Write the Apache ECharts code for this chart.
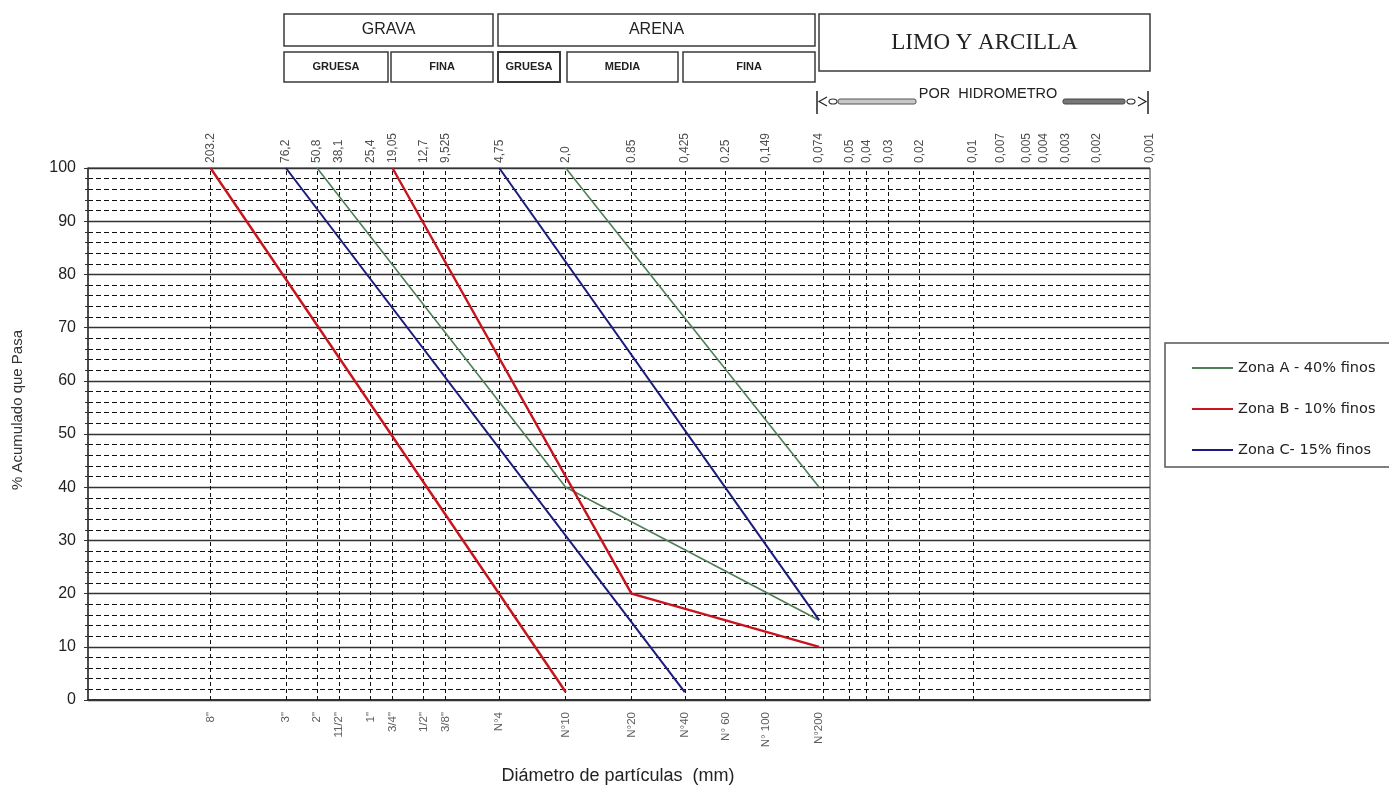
<!DOCTYPE html>
<html>
<head>
<meta charset="utf-8">
<script src="https://cdn.jsdelivr.net/npm/echarts@6/dist/echarts.min.js"></script>
<style>
html,body{margin:0;padding:0;background:#fff;}
#main{width:1389px;height:785px;}
</style>
</head>
<body>
<div id="main"></div>
<script>
// ---- data ----
const sizesMm = [203.2, 76.2, 50.8, 38.1, 25.4, 19.05, 12.7, 9.525, 4.75, 2.0, 0.85, 0.425, 0.25, 0.149, 0.074, 0.05, 0.04, 0.03, 0.02, 0.01, 0.007, 0.005, 0.004, 0.003, 0.002, 0.001];
const sizeLabels = ['203.2','76,2','50,8','38,1','25,4','19,05','12,7','9,525','4,75','2,0','0.85','0,425','0.25','0,149','0,074','0,05','0,04','0,03','0,02','0,01','0,007','0,005','0,004','0,003','0,002','0,001'];
const sieveLabels = ['8"','3"','2"','11/2"','1"','3/4"','1/2"','3/8"','N°4','N°10','N°20','N°40','N° 60','N° 100','N°200'];
const yTicks = [0, 10, 20, 30, 40, 50, 60, 70, 80, 90, 100];

const seriesNames = ['Zona A - 40% finos', 'Zona B - 10% finos', 'Zona C- 15% finos'];
const zonaAUpper = [[2.0, 100], [0.074, 40]];
const zonaALower = [[50.8, 100], [2.0, 40], [0.074, 15]];
const zonaBUpper = [[19.05, 100], [0.85, 20], [0.074, 10]];
const zonaBLower = [[203.2, 100], [2.0, 1.5]];
const zonaCUpper = [[4.75, 100], [0.074, 15]];
const zonaCLower = [[76.2, 100], [0.425, 1.5]];

// ---- chart ----
const colors = {A: '#4f7f58', B: '#c8141e', C: '#1b1b7c'};
const font = 'Liberation Sans, Arial, sans-serif';

function zoneSeries(name, data, color, width) {
  return {
    name: name, type: 'line', data: data, color: color,
    showSymbol: false, symbol: 'none', silent: true, z: 5,
    lineStyle: {color: color, width: width}
  };
}

const chart = echarts.init(document.getElementById('main'), null, {renderer: 'canvas'});

function box(x, y, w, h, text, fontSize, fontWeight, family, lw) {
  return [
    {type: 'rect', shape: {x: x, y: y, width: w, height: h}, style: {fill: '#fff', stroke: '#3a3a3a', lineWidth: lw || 1.5}, z: 10},
    {type: 'text', x: x + w / 2, y: y + h / 2, z: 11,
      style: {text: text, fill: '#222', font: (fontWeight || 'normal') + ' ' + fontSize + 'px ' + (family || font), align: 'center', verticalAlign: 'middle'}}
  ];
}

const graphics = [].concat(
  box(284, 14, 209, 32, 'GRAVA', 16),
  box(498, 14, 317, 32, 'ARENA', 16),
  box(284, 52, 104, 30, 'GRUESA', 11, 'bold'),
  box(391, 52, 102, 30, 'FINA', 11, 'bold'),
  box(498, 52, 62, 30, 'GRUESA', 11, 'bold', null, 2),
  box(567, 52, 111, 30, 'MEDIA', 11, 'bold'),
  box(683, 52, 132, 30, 'FINA', 11, 'bold'),
  box(819, 14, 331, 57, 'LIMO Y ARCILLA', 23, 'normal', 'Liberation Serif, Times New Roman, serif'),
  [
    {type: 'line', shape: {x1: 817, y1: 91, x2: 817, y2: 114}, style: {stroke: '#222', lineWidth: 1.5}},
    {type: 'polyline', shape: {points: [[827, 97], [819, 101.5], [827, 106]]}, style: {stroke: '#222', lineWidth: 1.2, fill: null}},
    {type: 'ellipse', shape: {cx: 833, cy: 101.5, rx: 4, ry: 2.5}, style: {stroke: '#333', lineWidth: 1.2, fill: '#fff'}},
    {type: 'rect', shape: {x: 838, y: 99, width: 78, height: 5, r: 2}, style: {fill: '#c8c8c8', stroke: '#555', lineWidth: 1}},
    {type: 'text', x: 988, y: 94, style: {text: 'POR  HIDROMETRO', fill: '#222', font: '14.5px ' + font, align: 'center', verticalAlign: 'middle'}},
    {type: 'rect', shape: {x: 1063, y: 99, width: 62, height: 5, r: 2}, style: {fill: '#777', stroke: '#444', lineWidth: 1}},
    {type: 'ellipse', shape: {cx: 1131, cy: 101.5, rx: 4, ry: 2.5}, style: {stroke: '#333', lineWidth: 1.2, fill: '#fff'}},
    {type: 'polyline', shape: {points: [[1138, 97], [1146, 101.5], [1138, 106]]}, style: {stroke: '#222', lineWidth: 1.2, fill: null}},
    {type: 'line', shape: {x1: 1148, y1: 91, x2: 1148, y2: 114}, style: {stroke: '#222', lineWidth: 1.5}},
    {type: 'text', x: 618, y: 776, style: {text: 'Diámetro de partículas  (mm)', fill: '#222', font: '18px ' + font, align: 'center', verticalAlign: 'middle'}},
    {type: 'text', x: 18, y: 410, rotation: Math.PI / 2, style: {text: '% Acumulado que Pasa', fill: '#333', font: '15px ' + font, align: 'center', verticalAlign: 'middle'}}
  ]
);

const option = {
  backgroundColor: '#fff',
  animation: false,
  textStyle: {fontFamily: font},
  grid: {left: 88, right: 239, top: 168, bottom: 85, show: true, borderColor: '#333', borderWidth: 1, backgroundColor: 'transparent'},
  legend: {
    data: seriesNames.map(n => ({name: n, icon: 'rect'})),
    orient: 'vertical', left: 1165, top: 343,
    padding: [16, 40, 8, 27], itemGap: 23,
    itemWidth: 41, itemHeight: 2,
    borderColor: '#555', borderWidth: 1.5, backgroundColor: '#fff',
    selectedMode: false,
    textStyle: {fontFamily: 'DejaVu Sans, sans-serif', fontSize: 14.5, color: '#222', lineHeight: 18}
  },
  xAxis: {
    type: 'log', logBase: 10, min: 0.001, max: 1000, inverse: true,
    axisLine: {show: true, lineStyle: {color: '#333', width: 2}},
    axisTick: {show: false}, axisLabel: {show: false},
    splitLine: {show: false}, minorSplitLine: {show: false}
  },
  yAxis: {
    type: 'value', min: 0, max: 100, interval: 10,
    axisLine: {show: true, lineStyle: {color: '#333', width: 1.5}},
    axisTick: {show: true, length: 4, lineStyle: {color: '#333'}},
    minorTick: {show: true, splitNumber: 5, length: 3, lineStyle: {color: '#333'}},
    axisLabel: {color: '#222', fontSize: 16, margin: 12, fontFamily: font,
      formatter: v => (yTicks.indexOf(v) >= 0 ? String(v) : '')},
    splitLine: {show: true, lineStyle: {color: '#333', width: 1.3}},
    minorSplitLine: {show: true, lineStyle: {color: '#111', width: 1, type: [5, 3]}}
  },
  series: [
    zoneSeries(seriesNames[0], zonaAUpper, colors.A, 1.6),
    zoneSeries(seriesNames[0], zonaALower, colors.A, 1.6),
    zoneSeries(seriesNames[1], zonaBUpper, colors.B, 2.4),
    zoneSeries(seriesNames[1], zonaBLower, colors.B, 2.4),
    zoneSeries(seriesNames[2], zonaCUpper, colors.C, 2),
    zoneSeries(seriesNames[2], zonaCLower, colors.C, 2),
    {
      name: 'vgrid', type: 'line', data: [], silent: true, z: 2,
      markLine: {
        silent: true, symbol: ['none', 'none'], animation: false,
        label: {show: false},
        lineStyle: {color: '#111', width: 1, type: [4, 3]},
        emphasis: {disabled: true},
        data: sizesMm.slice(0, sizesMm.length - 1).map(v => ({xAxis: v}))
      }
    },
    {
      name: 'topLabels', type: 'scatter', symbolSize: 0, silent: true, clip: false,
      data: sizesMm.map(v => [v, 100]),
      label: {show: true, position: 'top', distance: 5, rotate: 90, align: 'left', verticalAlign: 'middle',
        fontSize: 12, color: '#222', fontFamily: font,
        formatter: p => sizeLabels[p.dataIndex]}
    },
    {
      name: 'sieveLabels', type: 'scatter', symbolSize: 0, silent: true, clip: false,
      data: sieveLabels.map((s, i) => [sizesMm[i], 0]),
      label: {show: true, position: 'bottom', distance: 12, rotate: 90, align: 'right', verticalAlign: 'middle',
        fontSize: 11.5, color: '#333', fontFamily: font,
        formatter: p => sieveLabels[p.dataIndex]}
    }
  ],
  graphic: graphics
};
chart.setOption(option);
</script>
</body>
</html>
